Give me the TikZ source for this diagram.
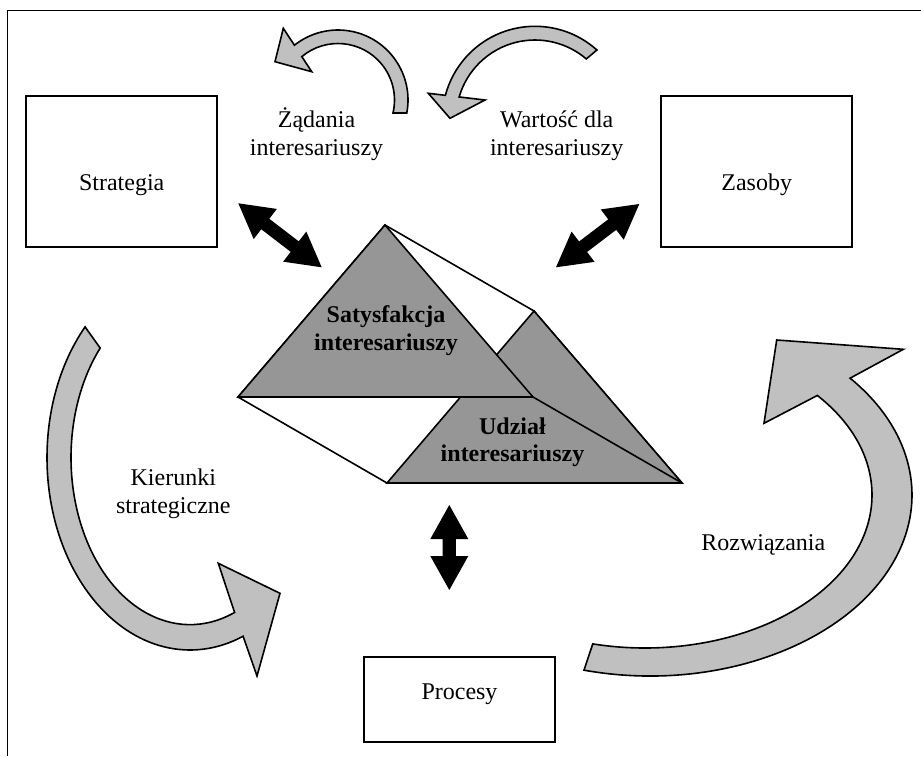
\documentclass[tikz,border=0pt]{standalone}
\usepackage{fontspec}
\setmainfont{Liberation Serif}
\usetikzlibrary{calc}
\definecolor{trigray}{RGB}{150,150,150}
\definecolor{arrgray}{RGB}{192,192,192}
\newcommand\fatdbl[2]{%
  \path ($(#1)!17pt!(#2)$) coordinate (#1h) ($(#2)!17pt!(#1)$) coordinate (#2h);
  \fill[black] (#1) -- ($(#1h)!9.5pt!90:(#2)$) -- ($(#1h)!3.3pt!90:(#2)$)
    -- ($(#2h)!3.3pt!-90:(#1)$) -- ($(#2h)!9.5pt!-90:(#1)$) -- (#2)
    -- ($(#2h)!9.5pt!90:(#1)$) -- ($(#2h)!3.3pt!90:(#1)$)
    -- ($(#1h)!3.3pt!-90:(#2)$) -- ($(#1h)!9.5pt!-90:(#2)$) -- cycle;}
\tikzset{
  box/.style={draw=black, line width=1pt, fill=white, inner sep=0pt},
  lbl/.style={font=\fontsize{12}{13.8}\selectfont, inner sep=0pt, anchor=base},
  blbl/.style={lbl, font=\fontsize{12}{13.8}\selectfont\bfseries},
  bent/.style={draw=black, line width=0.8pt, fill=arrgray, line join=miter},
  prism/.style={draw=black, line width=0.8pt, line join=miter},
}
\begin{document}
\begin{tikzpicture}[x=0.5pt, y=-0.5pt]
\useasboundingbox (0,0) rectangle (921,756);
% frame (only its top and left sides lie inside the picture)
\draw[line width=0.9pt] (7.5,756) -- (7.5,10.5) -- (921,10.5);
% boxes
\node[box, minimum width=95.5pt, minimum height=75.5pt] (strat) at (121.5,171.5) {};
\node[box, minimum width=95.5pt, minimum height=75.5pt] (zas) at (756.5,171.5) {};
\node[box, minimum width=95.5pt, minimum height=42.5pt] (proc) at (459.5,699.5) {};
\node[lbl] (strat-t) at (121.7,190.5) {Strategia};
\node[lbl] (zas-t) at (756.7,190.5) {Zasoby};
\node[lbl] (proc-t) at (459.5,699.3) {Procesy};
% prism
\coordinate (A) at (385,225);
\coordinate (B) at (238,397);
\coordinate (C) at (533,397);
\coordinate (D) at (534,311);
\coordinate (G) at (387,483);
\coordinate (E) at (682,483);
\filldraw[prism, fill=white] (A) -- (D) -- (E) -- (G) -- (B) -- cycle;
\filldraw[prism, fill=trigray] (D) -- (E) -- (G) -- cycle;
\filldraw[prism, fill=trigray] (A) -- (B) -- (C) -- cycle;
\draw[prism] (C) -- (E);
\node[blbl] (sat1) at (386,322.4) {Satysfakcja};
\node[blbl] (sat2) at (386,350) {interesariuszy};
\node[blbl] (udz1) at (512.5,434) {Udział};
\node[blbl] (udz2) at (512.5,461.6) {interesariuszy};
% black double arrows
\coordinate (dla) at (238.3,203.3); \coordinate (dlb) at (321.7,267.3);
\coordinate (dra) at (639.3,204);   \coordinate (drb) at (556,267.3);
\coordinate (dva) at (449.3,505);   \coordinate (dvb) at (449.3,590);
\fatdbl{dla}{dlb}
\fatdbl{dra}{drb}
\fatdbl{dva}{dvb}
% top-left curved arrow
\coordinate (c1) at (338,100);
\filldraw[bent] ($(c1)+(10.7:70)$) arc[start angle=10.7, end angle=-128.5, radius=70]
  -- (283.3,28.3) -- (275,61.7) -- (311.7,71.7)
  -- ($(c1)+(-129.8:56.5)$) arc[start angle=-129.8, end angle=13.3, radius=56.5] -- cycle;
% top-right curved arrow
\coordinate (c2) at (535,119);
\filldraw[bent] ($(c2)+(-48.1:92.7)$) arc[start angle=-48.1, end angle=-165.2, radius=92.7]
  -- (428.3,93.3) -- (450,118.3) -- (485,100)
  -- ($(c2)+(-163.8:79)$) arc[start angle=-163.8, end angle=-49.5, radius=79] -- cycle;
% left big curved arrow
\coordinate (c3) at (190,457.6);
\filldraw[bent] ($(c3)+(222.8:143 and 192.4)$) arc[start angle=222.8, end angle=68.2, x radius=143, y radius=192.4]
  -- (257,676) -- (280,593.3) -- (218.3,563.3)
  -- ($(c3)+(68:119 and 167)$) arc[start angle=68, end angle=221, x radius=119, y radius=167] -- cycle;
% right big curved arrow
\coordinate (c4o) at (650,495);
\coordinate (c4i) at (645,495);
\filldraw[bent] ($(c4o)+(104.6:262 and 181)$) arc[start angle=104.6, end angle=-40.2, x radius=262, y radius=181]
  -- (903.3,349.3) -- (776.7,340) -- (764,423.3)
  -- ($(c4i)+(-40.6:227 and 153)$) arc[start angle=-40.6, end angle=103.3, x radius=227, y radius=153] -- cycle;
% labels
\node[lbl] (zad1) at (316.5,127.5) {Żądania};
\node[lbl] (zad2) at (316.5,155) {interesariuszy};
\node[lbl] (war1) at (556.7,127.5) {Wartość dla};
\node[lbl] (war2) at (556.7,155) {interesariuszy};
\node[lbl] (kie1) at (173.3,485) {Kierunki};
\node[lbl] (kie2) at (173.3,513) {strategiczne};
\node[lbl] (roz) at (763.3,550) {Rozwiązania};
\end{tikzpicture}
\end{document}
